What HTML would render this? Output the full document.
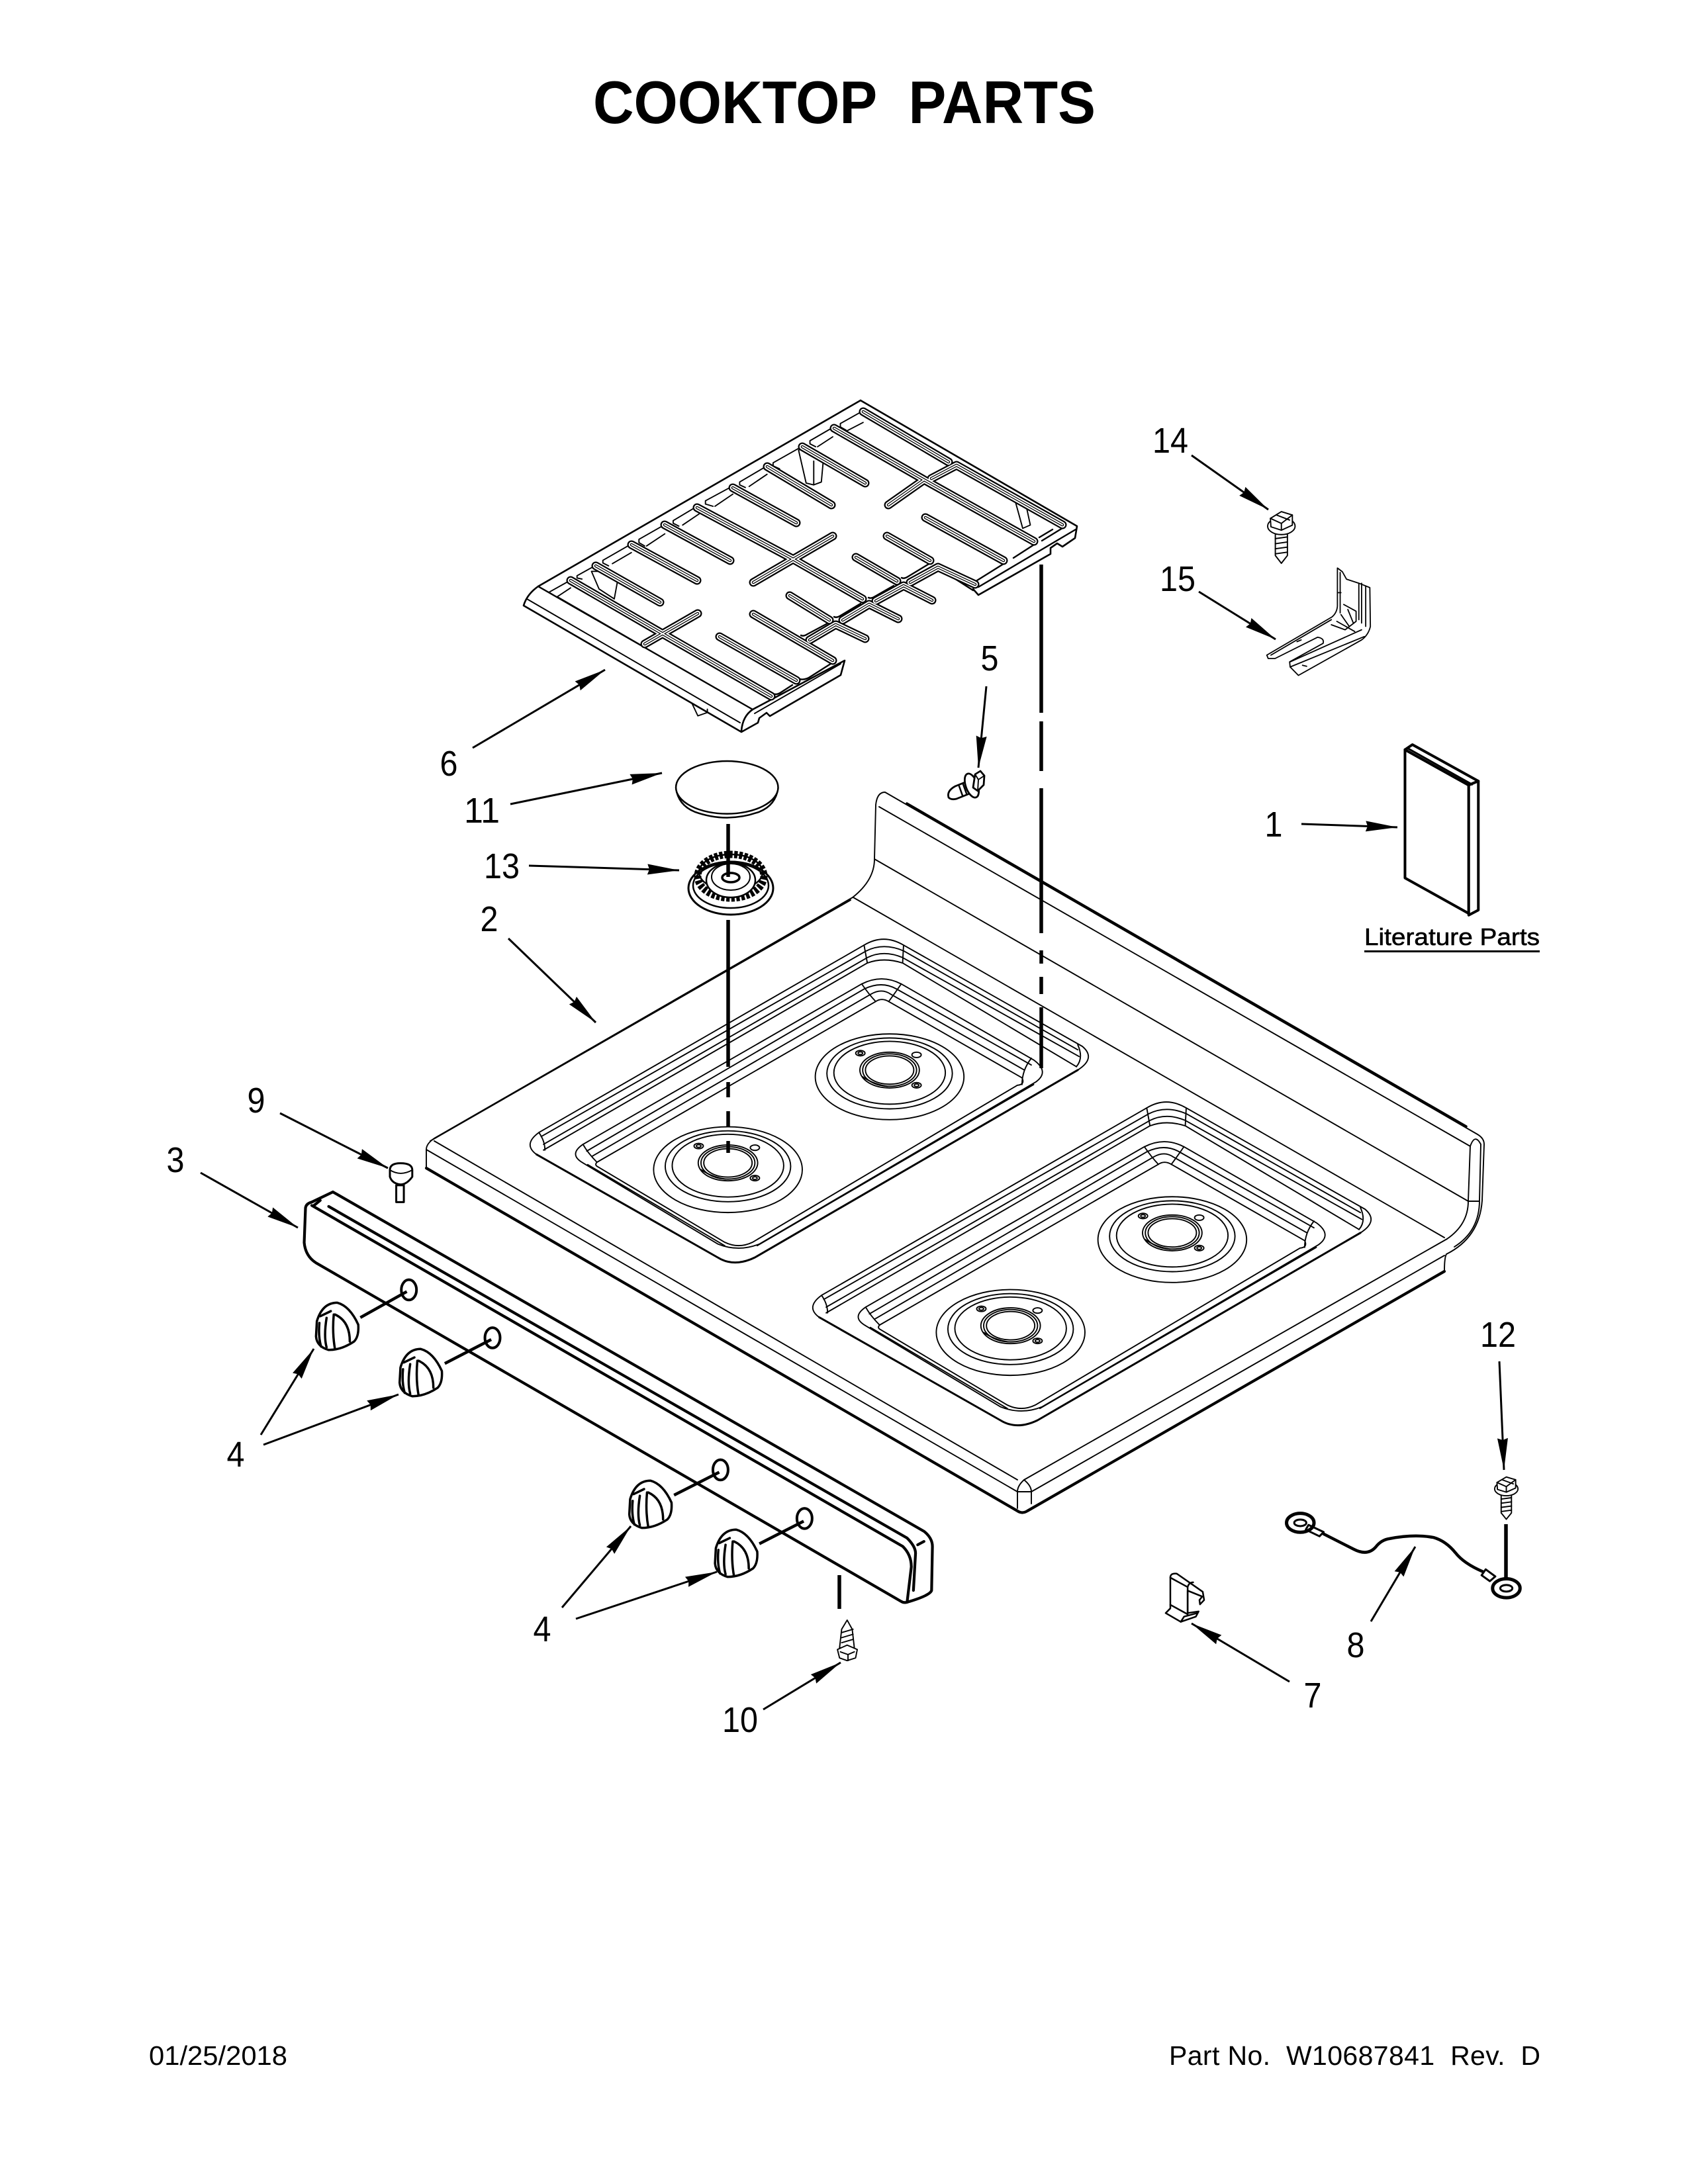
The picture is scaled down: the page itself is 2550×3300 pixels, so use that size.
<!DOCTYPE html>
<html><head><meta charset="utf-8"><title>Cooktop Parts</title>
<style>
html,body{margin:0;padding:0;background:#fff}
svg{display:block}
path,line,ellipse,polyline,polygon,rect{vector-effect:non-scaling-stroke}
text{font-family:"Liberation Sans",sans-serif;fill:#000}
.n{font-size:54px;text-anchor:middle}
.f{fill:none;stroke:#000;stroke-width:1.9;stroke-linejoin:round;stroke-linecap:round}
.w{fill:#fff;stroke:#000;stroke-width:1.9;stroke-linejoin:round;stroke-linecap:round}
.k{stroke-width:4.2}
.a line{stroke:#000;stroke-width:3}
</style></head><body>
<svg xmlns="http://www.w3.org/2000/svg" width="2550" height="3300" viewBox="0 0 2550 3300">
<defs>
<marker id="ah" markerUnits="userSpaceOnUse" markerWidth="60" markerHeight="30" refX="48" refY="14" orient="auto"><path d="M0,6 L48,14 L0,22 L3,14 Z" fill="#000"/></marker>
<path id="bars" d="M1304,622L1433,698M1260,647L1396,725L1562,818M1212,675L1307,730M1159,705L1256,763M1107,737L1203,790M1053,767L1193,842L1303,905M1004,793L1103,847M954,823L1053,877M900,855L997,910M862,877L1000,957L1165,1052M1138,928L1258,998M1087,962L1203,1028M1193,900L1253,937M1293,842L1355,878M1340,810L1405,847M1398,782L1516,847M1417,857L1473,883M1445,703L1605,793M1396,725L1342,763M1258,810L1138,880M1054,927L974,973M1445,703L1407,723M1223,967L1262,944M1273,937L1313,913M1323,908L1365,885M1375,880L1417,857M1263,944L1307,965M1313,913L1357,935M1365,885L1408,907"/>
<g id="knob">
<path class="w" style="stroke-width:3.5" d="M-48,-15 Q-35,-70 0,-70 Q30,-60 50,-5 Q52,30 40,45 Q10,70 -20,70 Q-48,60 -50,30 Z"/>
<path class="f" style="stroke-width:3.5" d="M-40,-30 L-15,-45 M-25,-25 Q-32,30 -25,62 M-8,-35 Q-12,20 -5,68 M-5,-35 Q30,-15 30,45 M-42,-10 Q-45,30 -38,60"/>
</g>
<g id="well">
<g class="f">
<path d="M1005,545 Q1047,510 1090,545 L1475,845 Q1505,880 1465,915 M300,1165 Q270,1135 305,1100 L1005,545"/>
<path style="stroke-width:3" d="M300,1165 L690,1470 Q725,1500 770,1470 L1465,915"/>
<path d="M310,1112 L1010,562 Q1047,537 1090,562 L1465,855"/>
<path d="M315,1135 L1012,582 Q1047,558 1088,582 L1468,875"/>
<path d="M315,1152 L1012,598 Q1047,580 1088,598 L1462,905"/>
<path d="M1005,545 L1012,598 M1090,545 L1088,598 M305,1100 Q318,1125 318,1152 M1465,840 Q1478,880 1462,905"/>
<path d="M1000,660 Q1043,630 1085,660 L1370,885 Q1405,920 1375,950 L780,1430 Q735,1455 690,1430 L400,1190 Q368,1165 400,1135 Z"/>
<path d="M408,1155 L1005,675 Q1043,650 1075,675 L1365,900"/>
<path d="M420,1170 L1020,690 Q1043,672 1062,690 L1350,915"/>
<path d="M430,1188 L1030,712 Q1043,700 1058,712 L1345,938 Q1352,958 1335,960 L765,1425 Q735,1445 705,1425 L430,1200 Q425,1195 430,1188"/>
<path d="M1000,660 Q1015,690 1030,712 M1085,660 Q1070,690 1058,712 M400,1135 Q410,1160 430,1188 M1365,880 Q1345,915 1345,958"/>
<path d="M410,1195 L705,1435 M775,1435 L1370,958"/>
</g>
<g class="f" id="b1" transform="translate(1060 935)">
<ellipse rx="160" ry="127" cx="0" cy="0"/><ellipse rx="135" ry="105" cy="-10"/><ellipse rx="120" ry="93" cy="-12"/>
<ellipse rx="64" ry="53" cy="-20"/><ellipse rx="58" ry="48" cy="-20"/><ellipse rx="52" ry="42" cy="-20"/>
<path d="M-58,0 Q-35,22 -5,28"/>
<ellipse cx="-63" cy="-70" rx="10" ry="8"/><ellipse cx="-63" cy="-70" rx="5" ry="4"/>
<ellipse cx="58" cy="-65" rx="10" ry="8"/>
<ellipse cx="58" cy="25" rx="10" ry="8"/><ellipse cx="58" cy="25" rx="5" ry="4"/>
</g>
<use href="#b1" transform="translate(-348 275)"/>
</g>
<g id="scr">
<path class="w" d="M-22,0 L-22,65 L0,88 L22,65 L22,0 Z"/>
<path class="f" d="M-22,15 L22,10 M-22,30 L22,25 M-22,45 L22,40 M-22,60 L22,55"/>
<ellipse class="w" cx="0" cy="-22" rx="50" ry="25"/>
<path class="w" d="M-40,-45 L0,-65 L40,-55 L40,-25 L0,-10 L-38,-20 Z"/>
<path class="f" d="M-40,-45 L0,-30 L40,-55 M0,-30 L0,-10 M-18,-55 L30,-40"/>
</g>
</defs>
<rect width="2550" height="3300" fill="#fff"/>

<text x="896" y="186" font-weight="700" font-size="91" textLength="759" lengthAdjust="spacingAndGlyphs">COOKTOP&#160;&#160;PARTS</text>

<!-- grate -->
<g transform="translate(750 580) scale(.574 .3333)">
<g class="f">
<path d="M965,122 L905,180 L905,195 L920,210 M965,175 L920,215 M885,198 L825,258 L825,272 L840,285 M885,240 L845,285 M805,283 L728,358 L728,372 L745,385 M712,372 L640,445 L640,458 L655,470 M712,410 L665,465 M622,463 L550,530 L550,545 L570,555 M622,500 L575,555 M533,550 L465,620 L465,632 L480,645 M533,590 L490,640 M443,638 L375,705 L375,720 L390,735 M443,680 L395,735 M355,726 L280,800 L280,812 L295,825 M355,765 L305,815 M262,822 L212,870 L212,880 L225,885 M195,890 L138,945 L160,968 M195,925 L160,965"/>
<path class="w" d="M795,300 L815,450 L835,458 L855,445 L860,350 L815,290 Z"/>
<path class="f" d="M835,350 L835,458"/>
<path class="w" d="M1365,530 L1385,655 L1405,640 L1395,560 L1380,530 Z"/>
<path class="w" d="M250,850 L270,930 L310,975 L318,900 L290,850 Z"/>
<path class="w" d="M515,1450 L530,1505 L555,1490 L555,1475"/>
</g>
</g>
<g class="f">
<path style="stroke-width:2.6" d="M1300,605 L1627,795 L1624,813 L1605,826 L1597,821 L1587,828 L1587,837 L1478,899 L1470,890 M1300,605 L813,886 Q796,898 791,915 L1120,1106 L1145,1092 L1147,1085 L1158,1077 L1163,1082 L1270,1020 L1276,998 L1137,1072 Q1122,1082 1120,1104"/>
<path d="M1270,1003 L1140,1078 M796,905 L1118,1092"/>
<path style="stroke-width:2.4" d="M813,886 L1137,1072 M842,902 L970,976 M1000,962 L1000,962 M1203,1024 Q1214,1030 1225,1022 L1258,1001 M1163,1046 Q1172,1052 1180,1046 L1197,1035 M1210,960 Q1214,962 1220,958 L1250,942 M1260,932 Q1264,934 1270,930 L1300,912 M1312,903 Q1316,905 1322,901 L1350,885 M1362,873 Q1366,875 1372,871 L1405,851 M1476,877 L1516,852 M1531,843 L1562,823 M1574,817 L1605,798 M1478,887 L1625,800 M1420,860 L1470,892 M1570,812 L1590,800"/>
</g>
<use href="#bars" fill="none" stroke="#000" stroke-width="13" stroke-linecap="round" stroke-linejoin="round"/>
<use href="#bars" fill="none" stroke="#fff" stroke-width="8.5" stroke-linecap="round" stroke-linejoin="round"/>
<use href="#bars" fill="none" stroke="#000" stroke-width="4.5" stroke-linecap="round" stroke-linejoin="round"/>
<use href="#bars" fill="none" stroke="#fff" stroke-width="2" stroke-linecap="round" stroke-linejoin="round"/>

<!-- cooktop body -->
<g class="f">
<path d="M644,1765 L644,1737 Q644,1728 656,1720 L1288,1356 Q1321,1330 1321,1298 L1323,1216 Q1325,1197 1337,1197 L2232,1714 Q2242,1720 2242,1729 L2239,1814 Q2235,1870 2185,1895 Q2182,1900 2182,1921"/>
<path class="k" d="M644,1765 L1537,2283 Q1544,2288 1552,2283 L2182,1921"/>
<path style="stroke-width:3.5" d="M1370,1214 L2215,1702"/>
<path d="M650,1724 L1285,1360"/>
<path d="M1328,1219 L2221,1732 M1321,1298 L2218,1815 M1289,1356 L2182,1870"/>
<path d="M656,1724 L1537,2236 M644,1737 L1537,2254 M2186,1872 L1547,2236 M2182,1897 L1558,2254"/>
<path d="M1537,2254 L1537,2279 M1558,2254 L1558,2272 M1537,2254 Q1537,2245 1547,2236 Q1558,2245 1558,2254 M1537,2254 H1558"/>
<path d="M2218,1815 Q2218,1850 2186,1872 M2221,1732 L2218,1815 M2221,1732 Q2228,1712 2237,1729 L2235,1814 Q2235,1860 2197,1884 M2218,1815 H2235"/>
</g>
<g transform="translate(600 1150) scale(.7018 .5102)"><use href="#well"/></g>
<g transform="translate(1027 1396) scale(.7018 .5102)"><use href="#well"/></g>

<!-- connector lines -->
<g stroke="#000" stroke-width="5.5" fill="none">
<path d="M1100,1390 V1612 M1100,1635 V1658 M1100,1679 V1703 M1100,1724 V1742"/>
<path d="M1573,853 V1077 M1573,1090 V1165 M1573,1191 V1410 M1573,1436 V1456 M1573,1476 V1502 M1573,1522 V1614"/>
<path d="M2275,2303 V2385 M1268,2380 V2431"/>
</g>

<!-- cap 11 -->
<g transform="translate(600 1150) scale(.7018 .5102)">
<path class="w" style="stroke-width:2.5" d="M600,80 Q605,130 640,150 Q710,185 780,150 Q815,130 820,80"/>
<ellipse class="w" style="stroke-width:2.5" cx="710" cy="78" rx="110" ry="78"/>
</g>
<g>
<ellipse class="w" style="stroke-width:3" cx="1104" cy="1342" rx="64" ry="40"/>
<ellipse class="f" style="stroke-width:2.5" cx="1104" cy="1338" rx="57" ry="34"/>
<ellipse class="f" cx="1104" cy="1324" rx="50" ry="33" style="stroke-width:11;stroke-dasharray:5 2.5;stroke-linecap:butt"/>
<ellipse class="f" style="stroke-width:2.5" cx="1104" cy="1318" rx="48" ry="27"/>
<ellipse class="w" style="stroke-width:2.5" cx="1104" cy="1330" rx="37" ry="26"/>
<ellipse class="w" style="stroke-width:2" cx="1104" cy="1325" rx="29" ry="20"/>
<path stroke="#000" stroke-width="5.5" fill="none" d="M1100,1245 V1325"/>
<ellipse class="f" style="stroke-width:3.5" cx="1104" cy="1326" rx="13" ry="7"/>
</g>
<!-- screw 5 -->
<g>
<path class="w" style="stroke-width:2.8" d="M1433,1205 Q1430,1195 1443,1188 L1468,1178 L1475,1195 L1445,1207 Q1437,1209 1433,1205 Z"/>
<path class="f" style="stroke-width:2.5" d="M1449,1188 L1454,1202 M1455,1185 L1460,1199 M1461,1182 L1466,1196"/>
<ellipse class="w" style="stroke-width:2.8" cx="1468" cy="1187" rx="9" ry="19" transform="rotate(-20 1468 1187)"/>
<path class="w" style="stroke-width:2.8" d="M1473,1170 L1481,1165 L1487,1172 L1486,1186 L1477,1195 L1470,1190 Z"/>
<path class="f" d="M1473,1170 L1478,1178 L1487,1172 M1478,1178 L1477,1195"/>
</g>

<!-- rail -->
<g transform="translate(420 1750) scale(.6378 .5102)">
<g class="f" style="stroke-width:4.2">
<path style="stroke-width:4.2" d="M130,100 L1530,1105 Q1550,1125 1550,1150 L1548,1280 Q1545,1295 1490,1315 Q1482,1318 1475,1312 L90,310 Q65,290 62,250 L65,150 Q65,135 80,130 L130,100"/>
<path style="stroke-width:4.2" d="M80,140 L1480,1150 Q1500,1175 1500,1210 L1490,1315"/>
<path style="stroke-width:4.2" d="M120,143 L1490,1125 Q1510,1150 1510,1170 L1505,1280"/>
<path d="M1515,1145 L1530,1135 M100,125 L85,140"/>
</g>
<g class="f" style="stroke-width:4">
<ellipse cx="310" cy="390" rx="18" ry="30"/><ellipse cx="508" cy="532" rx="18" ry="30"/><ellipse cx="1048" cy="923" rx="18" ry="30"/><ellipse cx="1247" cy="1067" rx="18" ry="30"/>
</g>
<g stroke="#000" stroke-width="4.5"><line x1="305" y1="395" x2="195" y2="472"/><line x1="505" y1="537" x2="395" y2="608"/><line x1="1045" y1="930" x2="938" y2="998"/><line x1="1245" y1="1075" x2="1140" y2="1142"/></g>
<use href="#knob" transform="translate(140 498)"/><use href="#knob" transform="translate(338 635)"/><use href="#knob" transform="translate(882 1025)"/><use href="#knob" transform="translate(1085 1170)"/>
<!-- screw 9 -->
<path class="w" style="stroke-width:3" d="M280,80 L280,130 L298,130 L298,80 Z"/>
<path class="w" style="stroke-width:3" d="M265,35 Q265,15 290,15 Q318,15 318,35 L318,55 Q305,78 290,78 Q270,75 265,55 Z"/>
<path class="f" d="M265,35 Q290,55 318,35"/>
<!-- screw 10 -->
<path class="w" d="M1335,1395 L1348,1368 L1360,1395 L1365,1450 L1330,1450 Z"/>
<path class="f" d="M1335,1405 L1362,1395 M1335,1420 L1362,1410 M1335,1435 L1362,1425"/>
<path class="w" d="M1325,1455 L1348,1442 L1372,1455 L1368,1480 L1348,1488 L1330,1480 Z"/>
<path class="f" d="M1332,1462 L1350,1470 L1365,1462 M1350,1470 L1350,1488"/>
</g>

<!-- screw 14 -->
<g transform="translate(1700 620) scale(.415 .5102)"><use href="#scr" transform="translate(568 365)"/>
<!-- bracket 15 -->
<path class="w" style="stroke-width:1.8" d="M772,467 L790,478 L805,500 L850,512 L890,525 L892,640 Q885,665 860,680 L630,785 L600,760 L598,745 L720,690 Q725,675 700,672 L545,735 L520,735 L515,725 L752,612 Q770,600 772,580 Z"/>
<path class="f" style="stroke-width:1.8" d="M850,512 L850,620 M860,512 L860,630 M875,520 L875,640 M782,480 L782,600 M795,575 L840,595 L840,625 L800,650 L750,635 M770,625 L835,655 M600,745 L860,650 M600,760 L870,670 M775,540 L785,540 M530,725 L750,620 M785,605 L815,640 M810,590 L830,630 M640,680 L625,685 M660,758 L645,755"/>
<!-- book -->
<path class="w" style="stroke-width:4" d="M1018,1005 L1250,1110 L1250,1490 L1018,1385 Z"/>
<path class="w" style="stroke-width:4" d="M1018,1005 L1045,990 L1285,1098 L1250,1110 Z"/>
<path class="w" style="stroke-width:4" d="M1285,1098 L1285,1480 L1250,1495 L1250,1110 Z"/>
<path class="f" style="stroke-width:3" d="M1030,1002 L1262,1108"/>
</g>

<!-- ground wire, screw 12, clip 7 -->
<g transform="translate(1680 2000) scale(.415 .357)">
<use href="#scr" transform="translate(1435 725) scale(.85 1.17)"/>
<path class="f" style="stroke-width:4.5" d="M770,890 L880,955 Q930,985 960,945 Q980,915 1010,910 Q1100,890 1170,905 Q1215,920 1250,970 Q1280,1015 1350,1050"/>
<path class="w" style="stroke-width:3" d="M715,852 L770,882 L755,900 L705,872 Z M1360,1040 L1395,1070 L1375,1090 L1345,1065 Z"/>
<ellipse class="f" style="stroke-width:5" cx="685" cy="843" rx="50" ry="40"/>
<ellipse class="f" style="stroke-width:3" cx="685" cy="843" rx="22" ry="14"/>
<ellipse class="w" style="stroke-width:5" cx="1435" cy="1120" rx="50" ry="40"/>
<ellipse class="f" style="stroke-width:3" cx="1435" cy="1120" rx="22" ry="14"/>
<path class="w" style="stroke-width:2.5" d="M212,1075 Q212,1055 235,1058 L330,1135 L335,1170 L320,1188 L318,1170 L328,1155 L275,1130 L275,1225 L315,1218 L305,1240 L250,1262 L195,1225 L212,1205 Z"/>
<path class="f" style="stroke-width:2.5" d="M212,1075 L275,1115 L275,1225 M275,1115 Q280,1095 295,1095 M212,1190 L275,1230 M250,1262 L262,1240 L310,1225"/>
</g>

<!-- leaders -->
<g class="a">
<line x1="1800" y1="688" x2="1916" y2="770" marker-end="url(#ah)"/>
<line x1="1811" y1="894" x2="1927" y2="966" marker-end="url(#ah)"/>
<line x1="1966" y1="1245" x2="2111" y2="1250" marker-end="url(#ah)"/>
<line x1="1490" y1="1037" x2="1478" y2="1160" marker-end="url(#ah)"/>
<line x1="714" y1="1130" x2="914" y2="1012" marker-end="url(#ah)"/>
<line x1="771" y1="1215" x2="1000" y2="1168" marker-end="url(#ah)"/>
<line x1="799" y1="1308" x2="1026" y2="1315" marker-end="url(#ah)"/>
<line x1="768" y1="1418" x2="900" y2="1545" marker-end="url(#ah)"/>
<line x1="423" y1="1682" x2="586" y2="1765" marker-end="url(#ah)"/>
<line x1="303" y1="1772" x2="450" y2="1855" marker-end="url(#ah)"/>
<line x1="394" y1="2168" x2="474" y2="2038" marker-end="url(#ah)"/>
<line x1="398" y1="2183" x2="602" y2="2107" marker-end="url(#ah)"/>
<line x1="849" y1="2429" x2="953" y2="2306" marker-end="url(#ah)"/>
<line x1="870" y1="2446" x2="1083" y2="2375" marker-end="url(#ah)"/>
<line x1="1153" y1="2583" x2="1270" y2="2512" marker-end="url(#ah)"/>
<line x1="1948" y1="2541" x2="1800" y2="2453" marker-end="url(#ah)"/>
<line x1="2071" y1="2450" x2="2138" y2="2337" marker-end="url(#ah)"/>
<line x1="2265" y1="2057" x2="2272" y2="2221" marker-end="url(#ah)"/>
</g>

<!-- labels -->
<text class="n" x="1768" y="684" textLength="54" lengthAdjust="spacingAndGlyphs">14</text>
<text class="n" x="1779" y="893" textLength="54" lengthAdjust="spacingAndGlyphs">15</text>
<text class="n" x="1495" y="1013" textLength="27" lengthAdjust="spacingAndGlyphs">5</text>
<text class="n" x="678" y="1172" textLength="27" lengthAdjust="spacingAndGlyphs">6</text>
<text class="n" x="728" y="1243" textLength="54" lengthAdjust="spacingAndGlyphs">11</text>
<text class="n" x="758" y="1327" textLength="54" lengthAdjust="spacingAndGlyphs">13</text>
<text class="n" x="739" y="1407" textLength="27" lengthAdjust="spacingAndGlyphs">2</text>
<text class="n" x="1924" y="1264" textLength="27" lengthAdjust="spacingAndGlyphs">1</text>
<text class="n" x="387" y="1681" textLength="27" lengthAdjust="spacingAndGlyphs">9</text>
<text class="n" x="265" y="1771" textLength="27" lengthAdjust="spacingAndGlyphs">3</text>
<text class="n" x="356" y="2216" textLength="27" lengthAdjust="spacingAndGlyphs">4</text>
<text class="n" x="819" y="2480" textLength="27" lengthAdjust="spacingAndGlyphs">4</text>
<text class="n" x="1118" y="2617" textLength="54" lengthAdjust="spacingAndGlyphs">10</text>
<text class="n" x="1983" y="2580" textLength="27" lengthAdjust="spacingAndGlyphs">7</text>
<text class="n" x="2048" y="2504" textLength="27" lengthAdjust="spacingAndGlyphs">8</text>
<text class="n" x="2263" y="2035" textLength="54" lengthAdjust="spacingAndGlyphs">12</text>

<text x="2061" y="1428" font-size="36" textLength="265" lengthAdjust="spacingAndGlyphs" stroke="#000" stroke-width=".6">Literature Parts</text>
<rect x="2061" y="1436" width="265" height="3" fill="#000"/>

<text x="225" y="3120" font-size="41" textLength="209" lengthAdjust="spacingAndGlyphs">01/25/2018</text>
<text x="1766" y="3120" font-size="41" textLength="561" lengthAdjust="spacing" xml:space="preserve">Part No.&#160; W10687841&#160; Rev.&#160; D</text>
</svg>
</body></html>
